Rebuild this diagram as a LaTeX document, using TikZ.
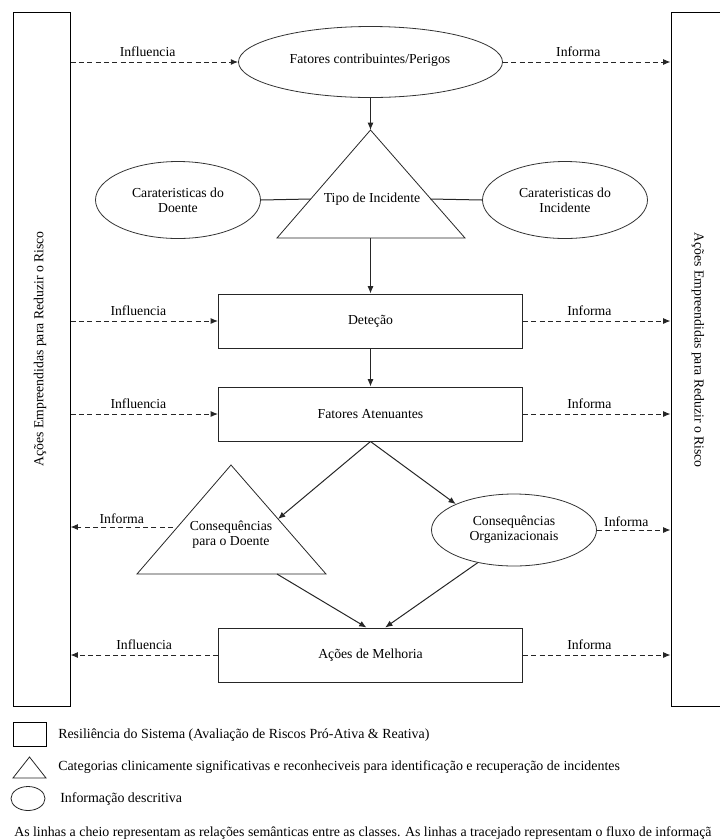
\documentclass[tikz,border=0pt]{standalone}
\usepackage{fontspec}
\setmainfont{Liberation Serif}
\usetikzlibrary{arrows.meta,shapes.geometric,calc}
\begin{document}
\begin{tikzpicture}[x=0.75pt,y=-0.75pt,
  every node/.style={font=\fontsize{10.3}{11.5}\selectfont, inner sep=0pt, align=center},
  legtext/.style={anchor=west, font=\fontsize{10.45}{12}\selectfont},
  bar/.style={draw=black, line width=0.75pt, minimum width=57*0.75pt, minimum height=694*0.75pt},
  stepbox/.style={draw=black!85, line width=0.75pt, minimum width=304*0.75pt, minimum height=54*0.75pt},
  infoell/.style={draw=black!80, line width=0.6pt, ellipse, minimum width=165*0.75pt, minimum height=77*0.75pt},
  tri/.style={draw=black!85, line width=0.6pt},
  sem/.style={draw=black!85, line width=0.75pt},
  semarrow/.style={sem, -{Latex[length=5.5pt,width=4.5pt]}},
  flow/.style={draw=black!85, line width=0.75pt, dash pattern=on 3.75pt off 2.5pt, -{Latex[length=5.5pt,width=4.5pt]}},
  lab/.style={above=4pt}
]
\useasboundingbox (0,0) rectangle (720,840);
\clip (0,0) rectangle (720,840);

% side bars
\node[bar] (lbar) at (41.5,359) {};
\node[bar] (rbar) at (699.5,359) {};
\node[rotate=90] (lbartext) at (40,349) {Ações Empreendidas para Reduzir o Risco};
\node[rotate=-90] (rbartext) at (698,350) {Ações Empreendidas para Reduzir o Risco};

% top ellipse
\node[draw=black!80, line width=0.6pt, ellipse, minimum width=264*0.75pt, minimum height=71*0.75pt] (fc) at (370.5,62) {};
\node (fctext) at (370,60) {Fatores contribuintes/Perigos};

% triangle 1
\coordinate (t1a) at (370.5,130);
\coordinate (t1l) at (277,238);
\coordinate (t1r) at (465,238);
\coordinate (t1le) at (310.5,199);
\coordinate (t1re) at (430.5,199);
\coordinate (t1b) at (370.5,238);
\draw[tri] (t1a) -- (t1l) -- (t1r) -- cycle;
\node (ti) at (372,199) {Tipo de Incidente};

% side ellipses
\node[infoell] (ce1) at (178,200) {Carateristicas do\\Doente};
\node[infoell] (ce2) at (565,200) {Carateristicas do\\Incidente};

% boxes
\node[stepbox] (det) at (370.5,321) {Deteção};
\node[stepbox] (fa) at (370.5,414) {Fatores Atenuantes};
\node[stepbox] (am) at (370.5,655) {Ações de Melhoria};

% triangle 2
\coordinate (t2a) at (231,465);
\coordinate (t2l) at (137,574);
\coordinate (t2r) at (326,574);
\coordinate (t2re) at (278,519);
\coordinate (t2le) at (173,527);
\coordinate (t2b) at (277,574);
\draw[tri] (t2a) -- (t2l) -- (t2r) -- cycle;
\node (cd) at (231,535) {Consequências\\para o Doente};

% ellipse 2
\node[infoell, minimum height=72*0.75pt] (oc) at (514,530) {Consequências\\Organizacionais};

% semantic connectors
\draw[semarrow] (fc.south) -- (t1a);
\draw[sem] (ce1.east) -- (t1le);
\draw[sem] (t1re) -- (ce2.west);
\draw[semarrow] (t1b) -- (det.north);
\draw[semarrow] (det.south) -- (fa.north);
\draw[semarrow] (fa.south) -- (t2re);
\draw[semarrow] (fa.south) -- (oc.156);
\draw[semarrow] (t2b) -- ([xshift=-3pt]am.north);
\draw[semarrow] (oc.222) -- ([xshift=11pt]am.north);

% information flow
\draw[flow] (lbar.east |- fc.west) -- node[lab, pos=.46] {Influencia} (fc.west);
\draw[flow] (fc.east) -- node[lab, pos=.45] {Informa} (rbar.west |- fc.east);
\draw[flow] (lbar.east |- det.west) -- node[lab, pos=.46] {Influencia} (det.west);
\draw[flow] (det.east) -- node[lab, pos=.45] {Informa} (rbar.west |- det.east);
\draw[flow] (lbar.east |- fa.west) -- node[lab, pos=.46] {Influencia} (fa.west);
\draw[flow] (fa.east) -- node[lab, pos=.45] {Informa} (rbar.west |- fa.east);
\draw[flow] (t2le) -- node[above=2pt, pos=.5] {Informa} (lbar.east |- t2le);
\draw[flow] (oc.east) -- node[above=2pt, pos=.4] {Informa} (rbar.west |- oc.east);
\draw[flow] (am.west) -- node[lab, pos=.5] {Influencia} (lbar.east |- am.west);
\draw[flow] (am.east) -- node[lab, pos=.45] {Informa} (rbar.west |- am.east);

% legend
\node[draw=black, line width=0.75pt, minimum width=33*0.75pt, minimum height=24*0.75pt] (lsq) at (29.5,734) {};
\draw[tri] (13,778) -- (29.5,757) -- (46,778) -- cycle;
\node[draw=black!85, line width=0.6pt, ellipse, minimum width=34*0.75pt, minimum height=24*0.75pt] (lel) at (28,798.5) {};
\node[legtext] (lt1) at (58,735) {Resiliência do Sistema (Avaliação de Riscos Pró-Ativa \& Reativa)};
\node[legtext] (lt2) at (58,767) {Categorias clinicamente significativas e reconheciveis para identificação e recuperação de incidentes};
\node[legtext] (lt3) at (60,799) {Informação descritiva};
\node[anchor=base west, font=\fontsize{10.4}{12}\selectfont] (note) at (14,836) {As linhas a cheio representam as relações semânticas entre as classes. As linhas a tracejado representam o fluxo de informaçã};
\end{tikzpicture}
\end{document}
